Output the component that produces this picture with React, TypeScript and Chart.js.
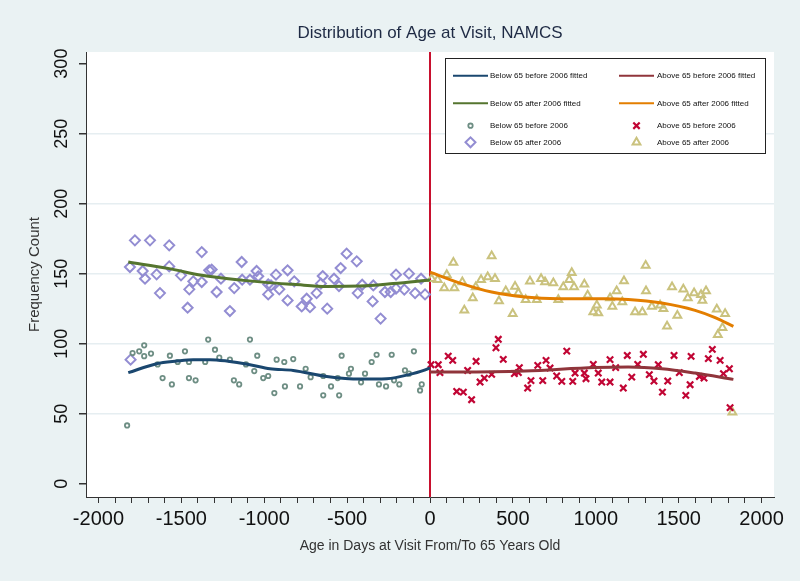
import React, { useEffect, useRef } from 'react';
import { Chart, registerables } from 'chart.js';

Chart.register(...registerables);

// ---------- data ----------
const belowBeforeX = [-1827, -1794, -1754, -1724, -1724, -1683, -1643, -1613, -1569, -1557, -1522, -1478, -1454, -1454, -1414, -1356, -1338, -1297, -1271, -1207, -1183, -1151, -1110, -1086, -1060, -1042, -1006, -976, -939, -925, -879, -875, -825, -784, -750, -720, -644, -644, -597, -557, -548, -533, -489, -477, -416, -392, -352, -322, -308, -265, -231, -217, -185, -151, -127, -97, -60, -50];
const belowBeforeY = [41.6, 93.3, 94.5, 98.8, 91.1, 92.9, 85.2, 75.4, 91.4, 70.9, 86.9, 94.5, 86.9, 75.4, 73.8, 86.9, 102.9, 95.7, 90, 88.6, 73.8, 70.9, 85.2, 102.9, 80.4, 91.4, 75.4, 76.9, 64.7, 88.6, 86.9, 69.5, 89, 69.5, 82.1, 76.1, 76.9, 63.1, 69.5, 75.4, 63.1, 91.4, 78.6, 82.1, 72.4, 78.6, 86.9, 92.1, 70.9, 69.5, 92.1, 73.8, 70.9, 80.9, 78.6, 94.5, 66.6, 70.9];

const aboveBeforeX = [6, 50, 60, 110, 137, 161, 201, 227, 251, 278, 302, 328, 372, 398, 412, 442, 509, 539, 533, 589, 609, 650, 680, 700, 724, 764, 795, 825, 861, 875, 931, 941, 985, 1015, 1036, 1086, 1086, 1120, 1166, 1190, 1217, 1253, 1287, 1323, 1351, 1377, 1402, 1434, 1472, 1504, 1543, 1569, 1575, 1625, 1653, 1679, 1703, 1750, 1770, 1806, 1810];
const aboveBeforeY = [85, 85, 79.3, 91.1, 88.1, 65.9, 65.4, 80.9, 60, 87.4, 72.6, 75.4, 78.1, 97.1, 103.1, 88.8, 78.6, 82.9, 79.3, 68.3, 73.6, 84.5, 73.6, 88.1, 82.6, 76.9, 73.1, 94.7, 73.1, 79, 79, 75, 85.2, 79, 72.6, 88.6, 72.6, 82.9, 68.3, 91.6, 76.1, 85.2, 92.4, 77.9, 73.3, 85, 65.4, 73.3, 91.6, 79.3, 63.1, 70.7, 90.9, 76.6, 75.4, 89.3, 95.9, 88.1, 78.6, 82.1, 54.3];

const belowAfterX = [-1806, -1810, -1780, -1733, -1719, -1689, -1649, -1629, -1573, -1573, -1502, -1462, -1452, -1428, -1377, -1377, -1332, -1317, -1287, -1261, -1207, -1181, -1136, -1133, -1086, -1046, -1036, -976, -976, -959, -929, -909, -859, -859, -819, -774, -744, -724, -684, -658, -647, -620, -579, -549, -539, -503, -442, -436, -409, -346, -342, -298, -272, -237, -205, -205, -155, -127, -90, -54, -30];
const belowAfterY = [88.6, 154.7, 173.8, 151.9, 146.4, 173.8, 149.5, 136.1, 170.2, 155.2, 148.8, 125.7, 138.8, 144.5, 165.4, 144, 152.4, 152.9, 136.9, 146.4, 123.3, 139.7, 158.3, 145.7, 145.7, 151.9, 148.1, 142.4, 135.2, 141.6, 149.3, 138.8, 152.4, 130.9, 144.5, 126.6, 132.1, 126.1, 136.1, 142.9, 148.3, 125, 146.4, 141.1, 154, 164.3, 158.8, 136.1, 142.1, 130.2, 141.6, 117.9, 136.9, 136.9, 149.3, 139.3, 138.6, 150, 136.1, 146.4, 135.2];

const aboveAfterX = [10, 46, 86, 101, 141, 147, 195, 207, 258, 276, 308, 348, 372, 392, 416, 457, 499, 513, 533, 577, 603, 644, 670, 694, 744, 774, 804, 840, 855, 869, 931, 951, 985, 1006, 1015, 1086, 1100, 1126, 1160, 1170, 1237, 1281, 1301, 1303, 1338, 1388, 1408, 1430, 1460, 1492, 1528, 1555, 1593, 1635, 1643, 1665, 1730, 1736, 1764, 1780, 1824];
const aboveAfterY = [146.4, 145.7, 139.7, 149.3, 157.9, 139.7, 144, 123.8, 132.6, 140.4, 145.7, 147.6, 162.6, 146.4, 130.4, 137.6, 121.4, 140.9, 136.1, 131.4, 144.5, 131.4, 146.4, 144, 143.3, 131.4, 140.4, 145.7, 150.7, 140.4, 142.4, 134.5, 122.6, 127.4, 121.9, 132.6, 126.6, 137.6, 129.7, 144.7, 122.6, 122.6, 155.9, 137.6, 126.6, 127.4, 125, 112.4, 140.4, 120.2, 138.8, 132.6, 136.1, 135, 130.9, 137.6, 124.5, 106.4, 111.4, 121.4, 51.1];

const fitBelowBeforeX = [-1820, -1649, -1528, -1428, -1327, -1227, -1086, -965, -825, -623, -422, -261, -121, -10, 0];
const fitBelowBeforeY = [79.3, 85.7, 87.6, 88.6, 88.6, 87.6, 85, 82.1, 80.9, 76.6, 74.7, 75, 78.1, 82.1, 82.8];

const fitBelowAfterX = [-1820, -1573, -1377, -1126, -976, -825, -623, -422, -221, 0];
const fitBelowAfterY = [158.3, 153.6, 148.8, 145.2, 143.6, 142.4, 140.9, 141.1, 142.9, 145.5];

const fitAboveBeforeX = [0, 171, 573, 995, 1196, 1398, 1599, 1830];
const fitAboveBeforeY = [79.7, 79.7, 80.4, 82.9, 83.3, 82.1, 79, 74.5];

const fitAboveAfterX = [0, 191, 372, 573, 774, 1056, 1196, 1398, 1599, 1720, 1830];
const fitAboveAfterY = [151.1, 142.9, 136.9, 133.3, 132.1, 132.1, 131.6, 129, 123.8, 118.6, 112.4];

const xTickValues = [-2000, -1900, -1800, -1700, -1600, -1500, -1400, -1300, -1200, -1100, -1000, -900, -800, -700, -600, -500, -400, -300, -200, -100, 0, 100, 200, 300, 400, 500, 600, 700, 800, 900, 1000, 1100, 1200, 1300, 1400, 1500, 1600, 1700, 1800, 1900, 2000];
const xLabelValues = [-2000, -1500, -1000, -500, 0, 500, 1000, 1500, 2000];
const yTickValues = [0, 50, 100, 150, 200, 250, 300];

const TITLE = 'Distribution of Age at Visit, NAMCS';
const X_TITLE = 'Age in Days at Visit From/To 65 Years Old';
const Y_TITLE = 'Frequency Count';

const C_NAVY = '#1a476f';
const C_MAROON = '#90353b';
const C_GREEN = '#55752f';
const C_ORANGE = '#e37e00';
const C_TEAL = '#6e8e84';
const C_CRAN = '#c10534';
const C_LAV = '#938dd2';
const C_KHAKI = '#cac27e';

const zip = (xs: number[], ys: number[]) => xs.map((x, i) => ({ x, y: ys[i] }));
const FONT = '"Liberation Sans", Arial, sans-serif';

type LegendItem = { label: string; kind: 'line' | 'circle' | 'crossRot' | 'rectRot' | 'triangle'; color: string };

const legendItems: LegendItem[] = [
  { label: 'Below 65 before 2006 fitted', kind: 'line', color: C_NAVY },
  { label: 'Above 65 before 2006 fitted', kind: 'line', color: C_MAROON },
  { label: 'Below 65 after 2006 fitted', kind: 'line', color: C_GREEN },
  { label: 'Above 65 after 2006 fitted', kind: 'line', color: C_ORANGE },
  { label: 'Below 65 before 2006', kind: 'circle', color: C_TEAL },
  { label: 'Above 65 before 2006', kind: 'crossRot', color: C_CRAN },
  { label: 'Below 65 after 2006', kind: 'rectRot', color: C_LAV },
  { label: 'Above 65 after 2006', kind: 'triangle', color: C_KHAKI },
];

function drawMarker(ctx: CanvasRenderingContext2D, kind: string, x: number, y: number, color: string) {
  ctx.save();
  ctx.strokeStyle = color;
  ctx.beginPath();
  if (kind === 'circle') {
    ctx.lineWidth = 1.8;
    ctx.arc(x, y, 2.2, 0, Math.PI * 2);
  } else if (kind === 'crossRot') {
    ctx.lineWidth = 2.2;
    const r = 3.2;
    ctx.moveTo(x - r, y - r); ctx.lineTo(x + r, y + r);
    ctx.moveTo(x + r, y - r); ctx.lineTo(x - r, y + r);
  } else if (kind === 'rectRot') {
    ctx.lineWidth = 2;
    const r = 5;
    ctx.moveTo(x - r, y); ctx.lineTo(x, y - r); ctx.lineTo(x + r, y); ctx.lineTo(x, y + r); ctx.closePath();
  } else if (kind === 'triangle') {
    ctx.lineWidth = 2;
    const r = 4.5;
    ctx.moveTo(x, y - r);
    ctx.lineTo(x + r * Math.sin(2 * Math.PI / 3), y - r * Math.cos(2 * Math.PI / 3));
    ctx.lineTo(x + r * Math.sin(4 * Math.PI / 3), y - r * Math.cos(4 * Math.PI / 3));
    ctx.closePath();
  }
  ctx.stroke();
  ctx.restore();
}

const decorPlugin = {
  id: 'decor',
  beforeDraw(chart: any) {
    const { ctx, chartArea: a, width, height } = chart;
    ctx.save();
    ctx.fillStyle = '#eaf2f3';
    ctx.fillRect(0, 0, width, height);
    ctx.fillStyle = '#ffffff';
    ctx.fillRect(a.left, a.top, a.right - a.left, a.bottom - a.top);
    ctx.restore();
  },
  beforeDatasetsDraw(chart: any) {
    const { ctx, chartArea: a } = chart;
    const x0 = chart.scales.x.getPixelForValue(0);
    ctx.save();
    ctx.strokeStyle = '#c8102e';
    ctx.lineWidth = 2;
    ctx.beginPath();
    ctx.moveTo(x0, a.top);
    ctx.lineTo(x0, a.bottom);
    ctx.stroke();
    ctx.restore();
  },
  afterDraw(chart: any) {
    const { ctx, chartArea: a } = chart;
    ctx.save();
    // title
    ctx.fillStyle = '#1e2a44';
    ctx.font = `17px ${FONT}`;
    ctx.textAlign = 'center';
    ctx.textBaseline = 'middle';
    ctx.fillText(TITLE, (a.left + a.right) / 2, 33);
    // legend box
    const bx = 445, by = 58, bw = 320, bh = 95;
    ctx.fillStyle = '#ffffff';
    ctx.fillRect(bx, by, bw, bh);
    ctx.strokeStyle = '#222';
    ctx.lineWidth = 1;
    ctx.strokeRect(bx + 0.5, by + 0.5, bw, bh);
    const rows = [75.7, 103.3, 125.7, 142.3];
    const cols = [{ l: 453, r: 488, t: 490 }, { l: 619, r: 654, t: 657 }];
    ctx.font = `8px ${FONT}`;
    ctx.textAlign = 'left';
    ctx.textBaseline = 'middle';
    legendItems.forEach((it, i) => {
      const row = rows[Math.floor(i / 2)];
      const col = cols[i % 2];
      if (it.kind === 'line') {
        ctx.strokeStyle = it.color;
        ctx.lineWidth = 2;
        ctx.beginPath();
        ctx.moveTo(col.l, row);
        ctx.lineTo(col.r, row);
        ctx.stroke();
      } else {
        drawMarker(ctx, it.kind, (col.l + col.r) / 2, row, it.color);
      }
      ctx.fillStyle = '#111';
      ctx.fillText(it.label, col.t, row);
    });
    ctx.restore();
  },
};

export default function App() {
  const ref = useRef<HTMLCanvasElement | null>(null);
  useEffect(() => {
    document.body.style.margin = '0';
    document.body.style.overflow = 'hidden';
    const canvas = ref.current;
    if (!canvas) return;
    const scatter = (label: string, xs: number[], ys: number[], style: string, color: string, radius: number, bw: number, order: number) => ({
      type: 'scatter' as const,
      label,
      data: zip(xs, ys),
      pointStyle: style,
      pointRadius: radius,
      pointBorderColor: color,
      pointBackgroundColor: 'rgba(0,0,0,0)',
      pointBorderWidth: bw,
      showLine: false,
      order,
    });
    const fit = (label: string, xs: number[], ys: number[], color: string) => ({
      type: 'line' as const,
      label,
      data: zip(xs, ys),
      borderColor: color,
      borderWidth: 3,
      pointRadius: 0,
      tension: 0.4,
      cubicInterpolationMode: 'monotone' as const,
      fill: false,
      order: 0,
    });
    const chart = new Chart(canvas, {
      type: 'scatter',
      data: {
        datasets: [
          fit('Below 65 before 2006 fitted', fitBelowBeforeX, fitBelowBeforeY, C_NAVY),
          fit('Above 65 before 2006 fitted', fitAboveBeforeX, fitAboveBeforeY, C_MAROON),
          fit('Below 65 after 2006 fitted', fitBelowAfterX, fitBelowAfterY, C_GREEN),
          fit('Above 65 after 2006 fitted', fitAboveAfterX, fitAboveAfterY, C_ORANGE),
          scatter('Below 65 before 2006', belowBeforeX, belowBeforeY, 'circle', C_TEAL, 2.2, 1.8, 1),
          scatter('Above 65 before 2006', aboveBeforeX, aboveBeforeY, 'crossRot', C_CRAN, 4.5, 2.2, 1),
          scatter('Below 65 after 2006', belowAfterX, belowAfterY, 'rectRot', C_LAV, 5, 2, 1),
          scatter('Above 65 after 2006', aboveAfterX, aboveAfterY, 'triangle', C_KHAKI, 4.5, 2, 1),
        ] as any,
      },
      options: {
        animation: false,
        responsive: false,
        maintainAspectRatio: false,
        devicePixelRatio: 1,
        layout: { padding: { top: 52, right: 26, left: 0, bottom: 0 } },
        plugins: {
          legend: { display: false },
          title: { display: false },
          tooltip: { enabled: false },
        },
        scales: {
          x: {
            type: 'linear',
            min: -2075,
            max: 2075,
            afterBuildTicks: (s: any) => { s.ticks = xTickValues.map((v) => ({ value: v })); },
            afterFit: (s: any) => { s.height = 84; },
            ticks: {
              autoSkip: false,
              maxRotation: 0,
              minRotation: 0,
              padding: 4,
              color: '#111',
              font: { family: FONT, size: 20 },
              callback: (v: any) => (xLabelValues.includes(Number(v)) ? String(v) : ''),
            },
            grid: { drawOnChartArea: false, drawTicks: true, tickLength: 6, tickColor: '#333', tickWidth: 1 },
            border: { display: true, color: '#333', width: 1 },
            title: {
              display: true,
              text: X_TITLE,
              color: '#333',
              font: { family: FONT, size: 14 },
              padding: { top: 0, bottom: 26.6 },
            },
          },
          y: {
            type: 'linear',
            min: -9.5,
            max: 308.3,
            afterBuildTicks: (s: any) => { s.ticks = yTickValues.map((v) => ({ value: v })); },
            afterFit: (s: any) => { s.width = 86; },
            ticks: {
              minRotation: 90,
              maxRotation: 90,
              crossAlign: 'center',
              padding: 2,
              color: '#111',
              font: { family: FONT, size: 18 },
            },
            grid: {
              drawOnChartArea: true,
              drawTicks: true,
              tickLength: 7,
              tickColor: '#333',
              color: (c: any) => (c.tick && (c.tick.value === 0 || c.tick.value === 300) ? 'rgba(0,0,0,0)' : '#e6eef1'),
              lineWidth: 1.5,
            },
            border: { display: true, color: '#333', width: 1 },
            title: {
              display: true,
              text: Y_TITLE,
              color: '#333',
              font: { family: FONT, size: 15 },
              padding: { top: 26, bottom: 0 },
            },
          },
        },
      },
      plugins: [decorPlugin],
    } as any);
    return () => chart.destroy();
  }, []);
  return <canvas ref={ref} width={800} height={581} style={{ display: 'block', width: 800, height: 581 }} />;
}
